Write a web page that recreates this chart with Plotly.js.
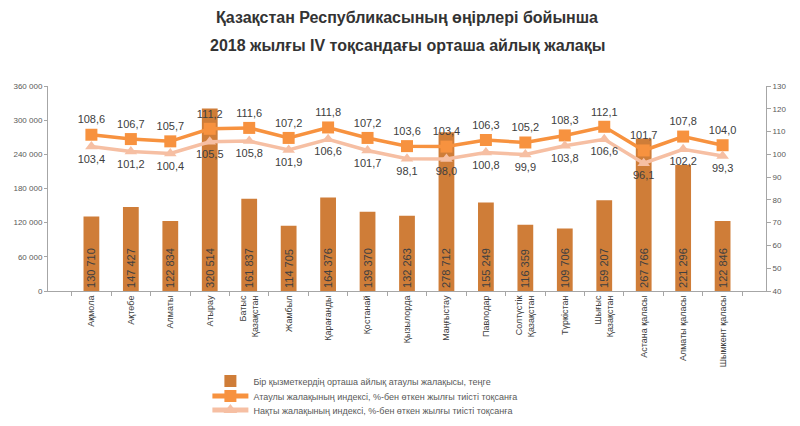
<!DOCTYPE html>
<html>
<head>
<meta charset="utf-8">
<script src="https://cdn.plot.ly/plotly-3.0.1.min.js"></script>
<style>
  html, body { margin: 0; padding: 0; background: #fff; }
  #chart { width: 800px; height: 426px; }
</style>
</head>
<body>
<div id="chart"></div>
<script>
// regions (x axis categories)
const regions = [
  "Ақмола", "Ақтөбе", "Алматы", "Атырау", "Батыс<br>Қазақстан", "Жамбыл",
  "Қарағанды", "Қостанай", "Қызылорда", "Маңғыстау", "Павлодар",
  "Солтүстік<br>Қазақстан", "Түркістан", "Шығыс<br>Қазақстан",
  "Астана қаласы", "Алматы қаласы", "Шымкент қаласы"
];

// average monthly nominal wage, tenge
const wage = [130710, 147427, 122834, 320514, 161837, 114705, 164376, 139370,
  132263, 278712, 155249, 116359, 109706, 159207, 267766, 221296, 122846];

// nominal wage index, %
const nominalIdx = [108.6, 106.7, 105.7, 111.2, 111.6, 107.2, 111.8, 107.2,
  103.6, 103.4, 106.3, 105.2, 108.3, 112.1, 101.7, 107.8, 104.0];

// real wage index, %
const realIdx = [103.4, 101.2, 100.4, 105.5, 105.8, 101.9, 106.6, 101.7,
  98.1, 98.0, 100.8, 99.9, 103.8, 106.6, 96.1, 102.2, 99.3];

const leftTicks = [0, 60000, 120000, 180000, 240000, 300000, 360000];
const rightTicks = [40, 50, 60, 70, 80, 90, 100, 110, 120, 130];

const titleLines = [
  "Қазақстан Республикасының өңірлері бойынша",
  "2018 жылғы IV тоқсандағы орташа айлық жалақы"
];

const txtFont = {family: "Liberation Sans, Arial, sans-serif", size: 11, color: "#404040"};
const titleFont = {family: "Liberation Sans, Arial, sans-serif", size: 16, color: "#333333", weight: "bold"};

const series = [
  {
    x: regions, y: wage, type: "bar", yaxis: "y", legend: "legend",
    name: "Бір қызметкердің орташа айлық атаулы жалақысы, теңге",
    marker: {color: "#cf7d38"},
    width: 0.4,
    texttemplate: "%{y:,}",
    textposition: "inside",
    insidetextanchor: "start",
    textangle: -90,
    textfont: txtFont,
    hoverinfo: "skip"
  },
  {
    x: regions, y: nominalIdx, type: "scatter", yaxis: "y2", legend: "legend2",
    mode: "lines+markers+text",
    name: "Атаулы жалақының индексі, %-бен өткен жылғы тиісті тоқсанға",
    line: {color: "#f7923f", width: 3.5},
    marker: {symbol: "square", size: 12, color: "#f7923f"},
    texttemplate: "%{y:.1f}",
    textposition: "top center",
    textfont: txtFont,
    cliponaxis: false
  },
  {
    x: regions, y: realIdx, type: "scatter", yaxis: "y2", legend: "legend3",
    mode: "lines+markers+text",
    name: "Нақты жалақының индексі, %-бен өткен жылғы тиісті тоқсанға",
    line: {color: "#f6bfa3", width: 3.5},
    marker: {symbol: "triangle-up", size: 11, color: "#f6bfa3"},
    texttemplate: "%{y:.1f}",
    textposition: "bottom center",
    textfont: txtFont,
    cliponaxis: false
  }
];

// one small legend per row so the rows sit as close as in the reference
function legendRow(ypx) {
  return {
    orientation: "v", x: 0.222, xanchor: "left",
    y: (291 - ypx) / 205, yanchor: "middle",
    font: {size: 9, color: "#595959"},
    itemwidth: 36, itemsizing: "constant",
    bgcolor: "rgba(0,0,0,0)"
  };
}

const layout = {
  width: 800, height: 426,
  margin: {l: 48, r: 34, t: 86, b: 135, autoexpand: false},
  separators: ", ",
  paper_bgcolor: "#ffffff",
  plot_bgcolor: "#ffffff",
  font: {family: "Liberation Sans, Arial, sans-serif", color: "#595959"},
  title: {
    text: titleLines[0],
    font: titleFont,
    x: 0.5, xanchor: "center", xref: "paper", y: 0.958, yanchor: "middle"
  },
  annotations: [{
    text: titleLines[1], font: titleFont, showarrow: false,
    xref: "paper", yref: "paper", x: 0.5, xanchor: "center",
    y: 1.0 + (86 - 45) / 205, yanchor: "middle"
  }],
  uniformtext: {mode: "show", minsize: 11},
  showlegend: true,
  legend: legendRow(381),
  legend2: legendRow(396),
  legend3: legendRow(410),
  xaxis: {
    type: "category",
    automargin: false,
    tickangle: -90,
    tickfont: {size: 9, color: "#404040"},
    showline: true, linecolor: "#a6a6a6", linewidth: 1,
    ticks: "outside", tickson: "boundaries", ticklen: 4, tickcolor: "#a6a6a6",
    showgrid: false
  },
  yaxis: {
    automargin: false,
    range: [0, 360000],
    tickvals: leftTicks,
    tickformat: ",",
    tickfont: {size: 8, color: "#595959"},
    showline: true, linecolor: "#a6a6a6",
    ticks: "outside", ticklen: 3, tickcolor: "#a6a6a6",
    showgrid: false, zeroline: false
  },
  yaxis2: {
    automargin: false,
    overlaying: "y", side: "right",
    range: [40, 130],
    tickvals: rightTicks,
    tickfont: {size: 8, color: "#595959"},
    showline: true, linecolor: "#a6a6a6",
    ticks: "outside", ticklen: 4, tickcolor: "#a6a6a6",
    showgrid: false, zeroline: false
  },
  bargap: 0.6
};

Plotly.newPlot("chart", series, layout, {displayModeBar: false, staticPlot: true});
</script>
</body>
</html>
